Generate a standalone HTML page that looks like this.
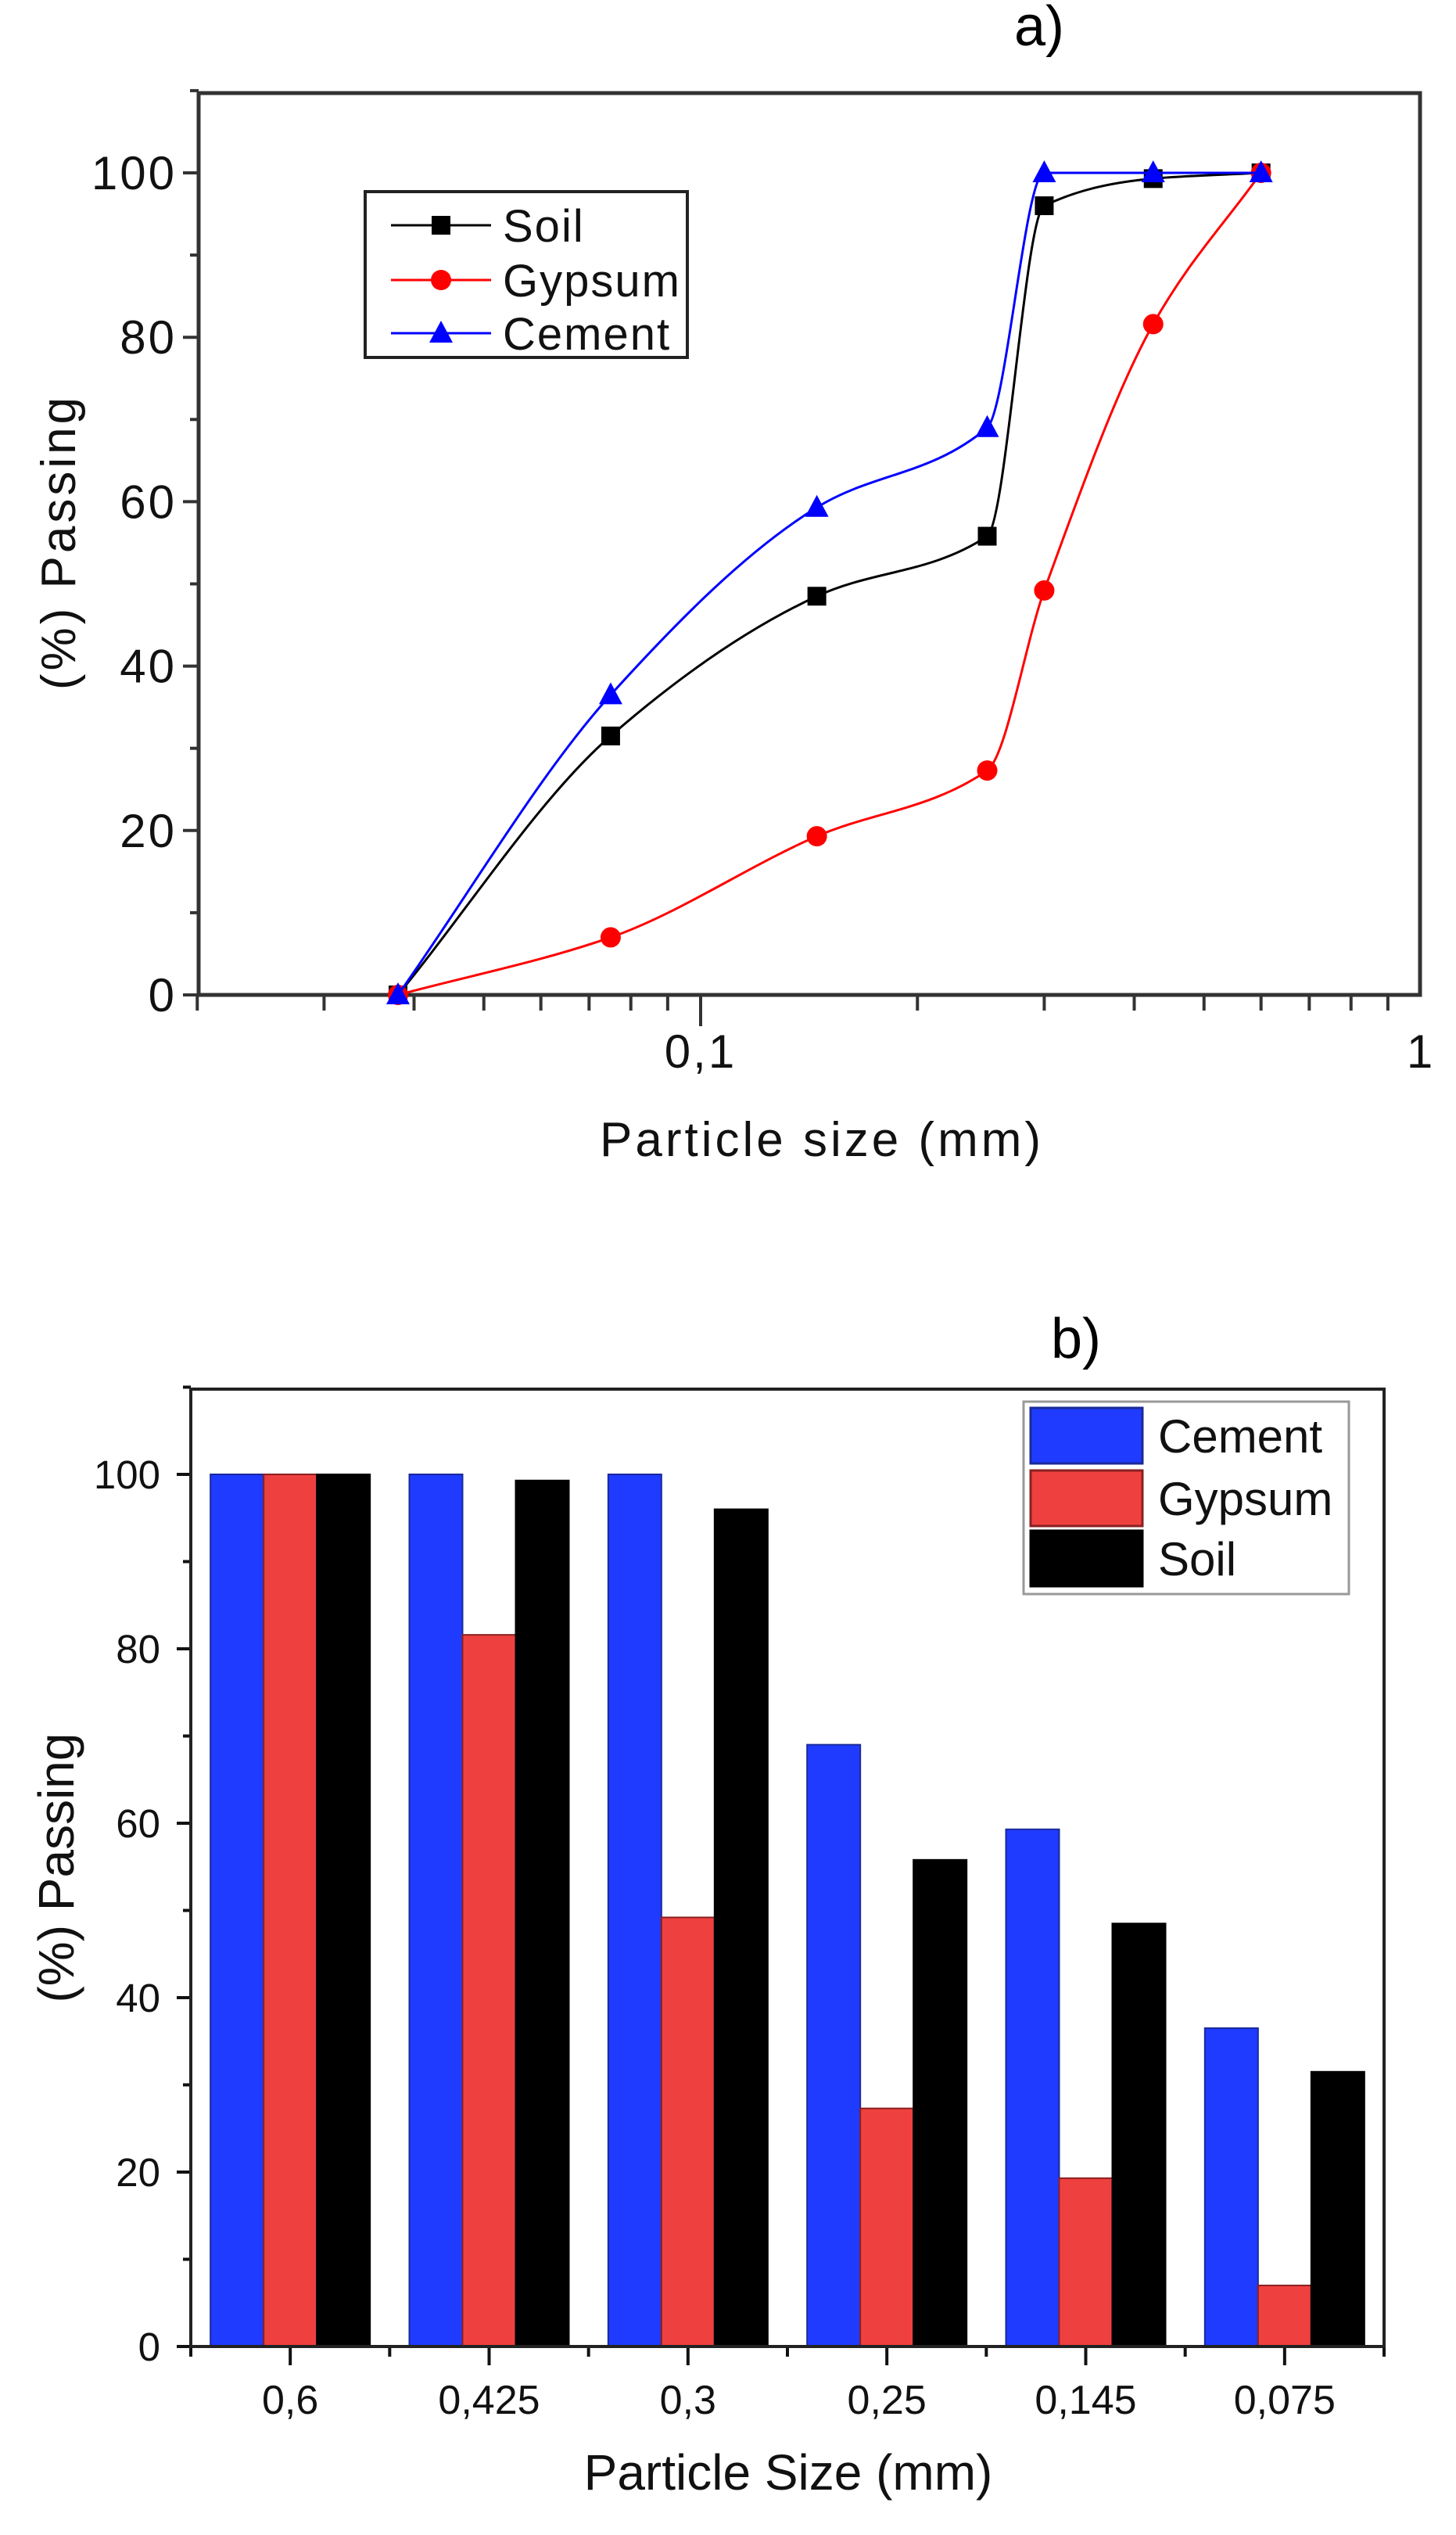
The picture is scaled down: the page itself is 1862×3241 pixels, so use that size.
<!DOCTYPE html>
<html><head><meta charset="utf-8"><style>
html,body{margin:0;padding:0;background:#fff;}
svg{display:block;}
text{font-family:"Liberation Sans",sans-serif;}
</style></head><body>
<svg id="chart" width="1862" height="3241" viewBox="0 0 1862 3241" xmlns="http://www.w3.org/2000/svg"></svg>
<script>
// ---- Chart a data ----
const sizesA = [0.038, 0.075, 0.145, 0.25, 0.3, 0.425, 0.6];
const soilA = [0, 31.5, 48.5, 55.8, 96, 99.3, 100];
const gypsumA = [0, 7, 19.3, 27.3, 49.2, 81.6, 100];
const cementA = [0, 36.5, 59.3, 69, 100, 100, 100];
const yTicksA = [0, 20, 40, 60, 80, 100];
const xTickLabelsA = ["0,1", "1"];
// ---- Chart b data ----
const categoriesB = ["0,6", "0,425", "0,3", "0,25", "0,145", "0,075"];
const cementB = [100, 100, 100, 69, 59.3, 36.5];
const gypsumB = [100, 81.6, 49.2, 27.3, 19.3, 7];
const soilB = [100, 99.3, 96, 55.8, 48.5, 31.5];
const yTicksB = [0, 20, 40, 60, 80, 100];

const NS = "http://www.w3.org/2000/svg";
const svg = document.getElementById("chart");
function mk(tag, attrs, parent, txt) {
  const e = document.createElementNS(NS, tag);
  for (const k in attrs) e.setAttribute(k, attrs[k]);
  if (txt !== undefined) e.textContent = txt;
  (parent || svg).appendChild(e);
  return e;
}

// ===== Chart A =====
const A = {l: 254, r: 1816, t: 119, b: 1272};
const xA = v => 896 + (Math.log10(v) + 1) * 921;
const yA = v => A.b - v * (A.b - 221) / 100;
const gA = mk("g", {});



let t = mk("text", {x: 1329, y: 58, "font-size": 72, "text-anchor": "middle"}, gA, "a)");



for (let v = 0; v <= 110; v += 10) {
  const major = v % 20 === 0;
  const ln = mk("line", {x1: A.l - (major ? 20 : 11), x2: A.l, y1: yA(v), y2: yA(v), stroke: "#333", "stroke-width": 4}, gA);
  
  
}
yTicksA.forEach(v => {
  const e = mk("text", {x: A.l - 28, y: yA(v) + 21, "font-size": 60, "letter-spacing": 3, "text-anchor": "end", fill: "#111"}, gA, String(v));
  
  
});
for (let d = -2; d <= -1; d++) {
  for (let m = 1; m <= 9; m++) {
    const v = m * Math.pow(10, d);
    if (v < 0.02) continue;
    const major = m === 1;
    const ln = mk("line", {x1: xA(v), x2: xA(v), y1: A.b, y2: A.b + (major ? 40 : 20), stroke: "#333", "stroke-width": 4}, gA);
    
    
  }
}
[0.1, 1].forEach((v, i) => {
  const e = mk("text", {x: xA(v), y: 1365, "font-size": 60, "letter-spacing": 3, "text-anchor": "middle", fill: "#111"}, gA, xTickLabelsA[i]);
  
  
});
let fr = mk("rect", {x: A.l, y: A.t, width: A.r - A.l, height: A.b - A.t, fill: "none", stroke: "#333", "stroke-width": 5}, gA);



t = mk("text", {x: 1051, y: 1478, "font-size": 62, "letter-spacing": 4, "text-anchor": "middle", fill: "#111"}, gA, "Particle size (mm)");


t = mk("text", {x: 0, y: 0, "font-size": 62, "letter-spacing": 4, "text-anchor": "middle", fill: "#111", transform: "translate(96,693) rotate(-90)"}, gA, "(%) Passing");



// monotone cubic (Fritsch-Carlson) in pixel space
function smoothPath(pts) {
  const n = pts.length, dx = [], sl = [], m = [];
  for (let i = 0; i < n - 1; i++) { dx[i] = pts[i+1][0] - pts[i][0]; sl[i] = (pts[i+1][1] - pts[i][1]) / dx[i]; }
  m[0] = sl[0]; m[n-1] = sl[n-2];
  for (let i = 1; i < n - 1; i++) m[i] = (sl[i-1] * sl[i] <= 0) ? 0 : 2 / (1 / sl[i-1] + 1 / sl[i]);
  let d = "M" + pts[0][0] + "," + pts[0][1];
  for (let i = 0; i < n - 1; i++) {
    const h = dx[i] / 3;
    d += " C" + (pts[i][0] + h) + "," + (pts[i][1] + m[i] * h) + " " + (pts[i+1][0] - h) + "," + (pts[i+1][1] - m[i+1] * h) + " " + pts[i+1][0] + "," + pts[i+1][1];
  }
  return d;
}
function marker(type, x, y, color, parent) {
  if (type === "square") return mk("rect", {x: x - 12, y: y - 12, width: 24, height: 24, fill: color}, parent);
  if (type === "circle") return mk("circle", {cx: x, cy: y, r: 13, fill: color}, parent);
  return mk("polygon", {points: `${x},${y - 16} ${x - 15},${y + 12} ${x + 15},${y + 12}`, fill: color}, parent);
}
const seriesA = [
  {name: "soil", vals: soilA, color: "#000", m: "square"},
  {name: "gypsum", vals: gypsumA, color: "#f00", m: "circle"},
  {name: "cement", vals: cementA, color: "#00f", m: "triangle"}
];
seriesA.forEach(s => {
  const pts = sizesA.map((x, i) => [xA(x), yA(s.vals[i])]);
  const p = mk("path", {d: smoothPath(pts), fill: "none", stroke: s.color, "stroke-width": 3}, gA);
  
  
  pts.forEach(pt => {
    const mm = marker(s.m, pt[0], pt[1], s.color, gA);
    
    
  });
});
const lgA = mk("g", {}, gA);


mk("rect", {x: 467, y: 245, width: 412, height: 212, fill: "#fff", stroke: "#222", "stroke-width": 4}, lgA);
[["Soil", "#000", "square", 288], ["Gypsum", "#f00", "circle", 358], ["Cement", "#00f", "triangle", 426]].forEach(r => {
  const g = mk("g", {}, lgA);
  
  
  mk("line", {x1: 500, x2: 628, y1: r[3], y2: r[3], stroke: r[1], "stroke-width": 3}, g);
  marker(r[2], 564, r[3], r[1], g);
  mk("text", {x: 643, y: r[3] + 21, "font-size": 58, "letter-spacing": 2, fill: "#111"}, g, r[0]);
});

// ===== Chart B =====
const B = {l: 244, r: 1770, t: 1776, b: 3000};
const cw = (B.r - B.l) / categoriesB.length;
const bw = 68;
const yB = v => B.b - v * (B.b - 1885) / 100;
const gB = mk("g", {});


t = mk("text", {x: 1376, y: 1736, "font-size": 72, "text-anchor": "middle"}, gB, "b)");



const seriesB = [
  {name: "cement", vals: cementB, color: "#1f3bff", stroke: "#1a2a99"},
  {name: "gypsum", vals: gypsumB, color: "#ef4040", stroke: "#8a2020"},
  {name: "soil", vals: soilB, color: "#000", stroke: "#000"}
];
categoriesB.forEach((c, i) => {
  const cx = B.l + cw * (i + 0.5);
  seriesB.forEach((s, j) => {
    const x = cx - 1.5 * bw + j * bw;
    const r = mk("rect", {x: x, y: yB(s.vals[i]), width: bw, height: B.b - yB(s.vals[i]), fill: s.color, stroke: s.stroke, "stroke-width": 2}, gB);
    
    
  });
  const tk = mk("line", {x1: cx, x2: cx, y1: B.b, y2: B.b + 24, stroke: "#111", "stroke-width": 4}, gB);
  
  
  const lb = mk("text", {x: cx, y: 3086, "font-size": 52, "text-anchor": "middle", fill: "#111"}, gB, c);
  
  
});
for (let i = 0; i <= categoriesB.length; i++) {
  const x = B.l + cw * i;
  const tk = mk("line", {x1: x, x2: x, y1: B.b, y2: B.b + 13, stroke: "#111", "stroke-width": 4}, gB);
  
  
}
for (let v = 0; v <= 110; v += 10) {
  const major = v % 20 === 0;
  const ln = mk("line", {x1: B.l - (major ? 18 : 10), x2: B.l, y1: yB(v), y2: yB(v), stroke: "#111", "stroke-width": 4}, gB);
  
  
}
yTicksB.forEach(v => {
  const e = mk("text", {x: 205, y: yB(v) + 18, "font-size": 51, "text-anchor": "end", fill: "#111"}, gB, String(v));
  
  
});
fr = mk("rect", {x: B.l, y: B.t, width: B.r - B.l, height: B.b - B.t, fill: "none", stroke: "#222", "stroke-width": 4}, gB);


t = mk("text", {x: 1008, y: 3183, "font-size": 64, "text-anchor": "middle", fill: "#111"}, gB, "Particle Size (mm)");


t = mk("text", {x: 0, y: 0, "font-size": 64, "text-anchor": "middle", fill: "#111", transform: "translate(94,2388) rotate(-90)"}, gB, "(%) Passing");


const lgB = mk("g", {}, gB);


mk("rect", {x: 1309, y: 1792, width: 416, height: 246, fill: "#fff", stroke: "#999", "stroke-width": 3}, lgB);
[["Cement", "#1f3bff", "#1a2a99", 1800], ["Gypsum", "#ef4040", "#8a2020", 1880], ["Soil", "#000", "#000", 1957]].forEach(r => {
  const g = mk("g", {}, lgB);
  
  
  mk("rect", {x: 1318, y: r[3], width: 143, height: 71, fill: r[1], stroke: r[2], "stroke-width": 3}, g);
  mk("text", {x: 1481, y: r[3] + 57, "font-size": 60, fill: "#111"}, g, r[0]);
});
</script>
</body></html>
